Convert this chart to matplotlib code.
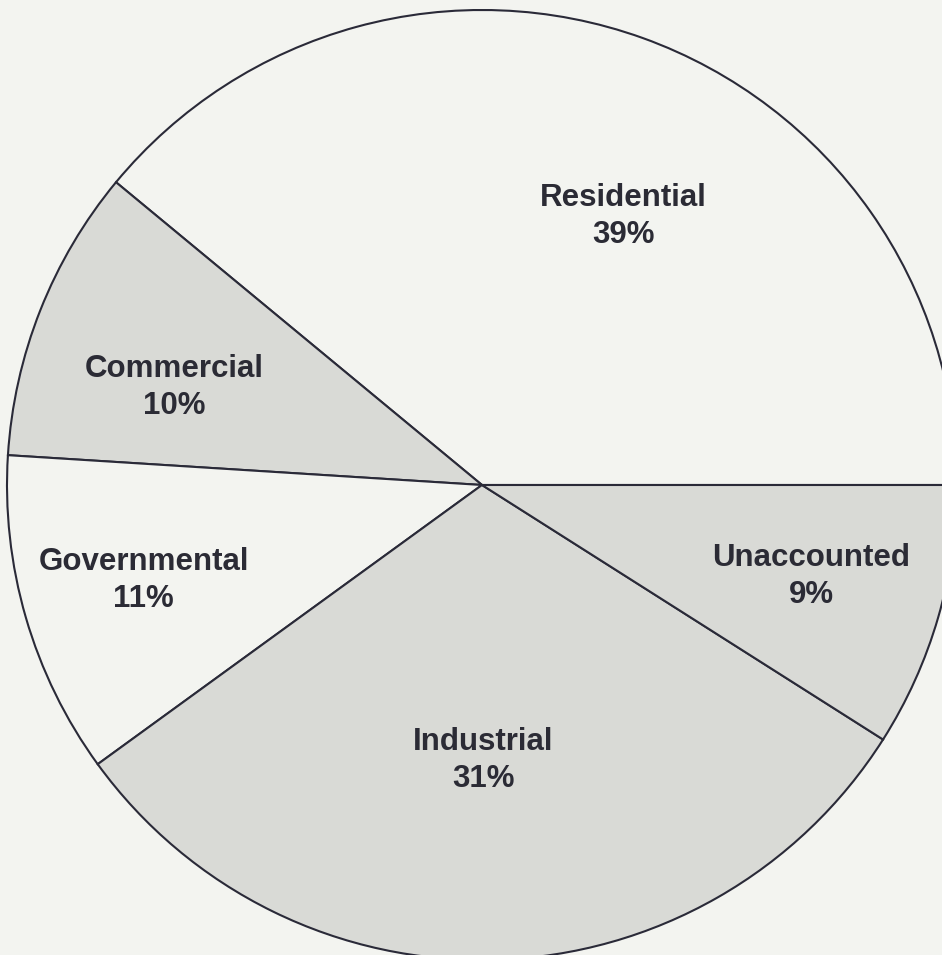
#!/usr/bin/env python3
"""Pie chart of use shares (scanned-figure recreation)."""

import numpy as np
import matplotlib.pyplot as plt

# ---------------- Data ----------------
categories = ["Residential", "Commercial", "Governmental", "Industrial", "Unaccounted"]
shares = [39, 10, 11, 31, 9]

# ---------------- Style ----------------
BG = "#f3f4f0"
LIGHT = "#f3f4f0"
GRAY = "#d9dad6"
EDGE = "#2a2a38"
TEXT = "#2b2b35"
slice_colors = [LIGHT, GRAY, LIGHT, GRAY, GRAY]

# label placement: fraction of radius and angle offset (deg) from wedge middle
label_r = [0.64, 0.68, 0.74, 0.58, 0.72]
label_dang = [-8.0, 4.0, -0.5, -1.5, 0.7]

W, H = 942, 955
CX, CY, R = 482, H - 485, 475

plt.rcParams["font.family"] = ["Liberation Sans", "DejaVu Sans"]

fig = plt.figure(figsize=(W / 100, H / 100), dpi=100, facecolor=BG)
ax = fig.add_axes([0, 0, 1, 1])
ax.set_facecolor(BG)

wedges, _ = ax.pie(
    shares,
    colors=slice_colors,
    startangle=0,
    counterclock=True,
    radius=R,
    center=(CX, CY),
    frame=True,
    wedgeprops=dict(edgecolor=EDGE, linewidth=1.5),
)

for w, name, pct, fr, da in zip(wedges, categories, shares, label_r, label_dang):
    mid = np.deg2rad((w.theta1 + w.theta2) / 2 + da)
    x = CX + fr * R * np.cos(mid)
    y = CY + fr * R * np.sin(mid)
    ax.text(x, y, f"{name}\n{pct}%", ha="center", va="center",
            fontsize=22.5, fontweight="bold", color=TEXT, linespacing=1.3)

ax.set_xlim(0, W)
ax.set_ylim(0, H)
ax.set_aspect("equal", adjustable="box")
ax.axis("off")

fig.savefig("out.png", dpi=100, facecolor=BG)
plt.close(fig)
